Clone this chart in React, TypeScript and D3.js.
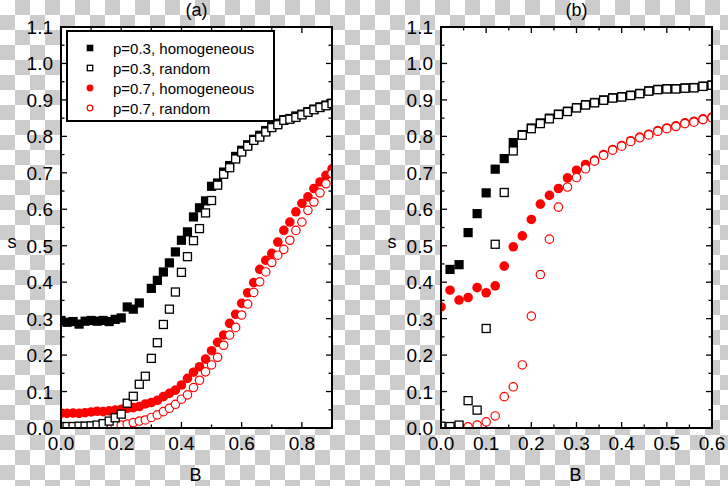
import React from "react";
import * as d3 from "d3";

// ---------- data ----------
// panel (a)
const aHomP3: [number, number][] = [
  [0.0, 0.295], [0.02, 0.29], [0.04, 0.292], [0.06, 0.285], [0.08, 0.293], [0.1, 0.295],
  [0.12, 0.293], [0.14, 0.295], [0.16, 0.292], [0.18, 0.298], [0.2, 0.302], [0.22, 0.332],
  [0.24, 0.326], [0.26, 0.343], [0.3, 0.383], [0.32, 0.405], [0.34, 0.428], [0.36, 0.453],
  [0.38, 0.483], [0.4, 0.515], [0.42, 0.538], [0.44, 0.579], [0.46, 0.604], [0.48, 0.623],
  [0.5, 0.663], [0.52, 0.672], [0.54, 0.702], [0.56, 0.72], [0.58, 0.745], [0.6, 0.762],
  [0.62, 0.777], [0.64, 0.792], [0.66, 0.803], [0.68, 0.816], [0.7, 0.828], [0.72, 0.836],
  [0.74, 0.846], [0.76, 0.849], [0.78, 0.856], [0.8, 0.861], [0.82, 0.868], [0.84, 0.875],
  [0.86, 0.881], [0.88, 0.886], [0.9, 0.891],
];
const aRandP3: [number, number][] = [
  [0.0, 0.004], [0.02, 0.004], [0.04, 0.004], [0.06, 0.005], [0.08, 0.005], [0.1, 0.006],
  [0.12, 0.008], [0.14, 0.012], [0.16, 0.019], [0.18, 0.028], [0.2, 0.038], [0.22, 0.068],
  [0.24, 0.087], [0.26, 0.12], [0.28, 0.142], [0.3, 0.191], [0.32, 0.234], [0.34, 0.284],
  [0.36, 0.326], [0.38, 0.373], [0.4, 0.427], [0.42, 0.47], [0.44, 0.514], [0.46, 0.547],
  [0.48, 0.59], [0.5, 0.624], [0.52, 0.666], [0.54, 0.696], [0.56, 0.714], [0.58, 0.738],
  [0.6, 0.757], [0.62, 0.773], [0.64, 0.789], [0.66, 0.798], [0.68, 0.812], [0.7, 0.824],
  [0.72, 0.832], [0.74, 0.844], [0.76, 0.847], [0.78, 0.852], [0.8, 0.859], [0.82, 0.866],
  [0.84, 0.873], [0.86, 0.879], [0.88, 0.884], [0.9, 0.89],
];
const aHomP7: [number, number][] = [
  [0.0, 0.04], [0.02, 0.04], [0.04, 0.041], [0.06, 0.04], [0.08, 0.042], [0.1, 0.044],
  [0.12, 0.046], [0.14, 0.045], [0.16, 0.047], [0.18, 0.049], [0.2, 0.051], [0.22, 0.054],
  [0.24, 0.056], [0.26, 0.059], [0.28, 0.066], [0.3, 0.07], [0.32, 0.076], [0.34, 0.086],
  [0.36, 0.095], [0.38, 0.104], [0.4, 0.118], [0.42, 0.136], [0.44, 0.153], [0.46, 0.168],
  [0.48, 0.189], [0.5, 0.212], [0.52, 0.235], [0.54, 0.255], [0.56, 0.287], [0.58, 0.312],
  [0.6, 0.342], [0.62, 0.371], [0.64, 0.399], [0.66, 0.435], [0.68, 0.46], [0.7, 0.479],
  [0.72, 0.51], [0.74, 0.542], [0.76, 0.565], [0.78, 0.593], [0.8, 0.616], [0.82, 0.634],
  [0.84, 0.657], [0.86, 0.675], [0.88, 0.693], [0.9, 0.711],
];
const aRandP7: [number, number][] = [
  [0.0, 0.003], [0.02, 0.003], [0.04, 0.003], [0.06, 0.003], [0.08, 0.004], [0.1, 0.004],
  [0.12, 0.005], [0.14, 0.005], [0.16, 0.006], [0.18, 0.007], [0.2, 0.008], [0.22, 0.011],
  [0.24, 0.015], [0.26, 0.019], [0.28, 0.022], [0.3, 0.029], [0.32, 0.036], [0.34, 0.045],
  [0.36, 0.054], [0.38, 0.065], [0.4, 0.079], [0.42, 0.091], [0.44, 0.111], [0.46, 0.131],
  [0.48, 0.154], [0.5, 0.173], [0.52, 0.194], [0.54, 0.227], [0.56, 0.255], [0.58, 0.276],
  [0.6, 0.31], [0.62, 0.34], [0.64, 0.372], [0.66, 0.401], [0.68, 0.428], [0.7, 0.454],
  [0.72, 0.474], [0.74, 0.49], [0.76, 0.515], [0.78, 0.542], [0.8, 0.565], [0.82, 0.597],
  [0.84, 0.62], [0.86, 0.645], [0.88, 0.67], [0.9, 0.698],
];

// panel (b)
const bHomP3: [number, number][] = [
  [0.02, 0.435], [0.04, 0.448], [0.06, 0.536], [0.08, 0.588], [0.1, 0.645], [0.12, 0.71],
  [0.14, 0.739], [0.16, 0.783], [0.18, 0.805], [0.2, 0.823], [0.22, 0.837], [0.24, 0.85],
  [0.26, 0.861], [0.28, 0.869], [0.3, 0.879], [0.32, 0.887], [0.34, 0.893], [0.36, 0.9],
  [0.38, 0.906], [0.4, 0.909], [0.42, 0.913], [0.44, 0.918], [0.46, 0.925], [0.48, 0.929],
  [0.5, 0.931], [0.52, 0.931], [0.54, 0.933], [0.56, 0.934], [0.58, 0.938], [0.6, 0.941],
];
const bRandP3: [number, number][] = [
  [0.0, 0.005], [0.02, 0.004], [0.04, 0.008], [0.06, 0.075], [0.08, 0.049], [0.1, 0.273],
  [0.12, 0.504], [0.14, 0.646], [0.16, 0.76], [0.18, 0.803], [0.2, 0.821], [0.22, 0.835],
  [0.24, 0.848], [0.26, 0.86], [0.28, 0.868], [0.3, 0.878], [0.32, 0.886], [0.34, 0.892],
  [0.36, 0.899], [0.38, 0.905], [0.4, 0.908], [0.42, 0.912], [0.44, 0.917], [0.46, 0.924],
  [0.48, 0.928], [0.5, 0.93], [0.52, 0.93], [0.54, 0.932], [0.56, 0.933], [0.58, 0.937],
  [0.6, 0.94],
];
const bHomP7: [number, number][] = [
  [0.0, 0.332], [0.02, 0.378], [0.04, 0.351], [0.06, 0.358], [0.08, 0.385], [0.1, 0.371],
  [0.12, 0.39], [0.14, 0.444], [0.16, 0.497], [0.18, 0.527], [0.2, 0.572], [0.22, 0.614],
  [0.24, 0.638], [0.26, 0.657], [0.28, 0.686], [0.3, 0.707], [0.32, 0.723], [0.34, 0.735],
  [0.36, 0.75], [0.38, 0.764], [0.4, 0.775], [0.42, 0.788], [0.44, 0.798], [0.46, 0.806],
  [0.48, 0.816], [0.5, 0.823], [0.52, 0.829], [0.54, 0.837], [0.56, 0.841], [0.58, 0.848],
  [0.6, 0.853],
];
const bRandP7: [number, number][] = [
  [0.0, 0.005], [0.02, 0.003], [0.04, 0.003], [0.06, 0.003], [0.08, 0.008], [0.1, 0.017],
  [0.12, 0.033], [0.14, 0.086], [0.16, 0.113], [0.18, 0.173], [0.2, 0.307], [0.22, 0.421],
  [0.24, 0.518], [0.26, 0.606], [0.28, 0.661], [0.3, 0.687], [0.32, 0.711], [0.34, 0.732],
  [0.36, 0.748], [0.38, 0.762], [0.4, 0.773], [0.42, 0.786], [0.44, 0.796], [0.46, 0.804],
  [0.48, 0.814], [0.5, 0.821], [0.52, 0.827], [0.54, 0.835], [0.56, 0.839], [0.58, 0.846],
  [0.6, 0.851],
];

const legendLabels = [
  "p=0.3, homogeneous",
  "p=0.3, random",
  "p=0.7, homogeneous",
  "p=0.7, random",
];
const yTickValues = [0, 0.1, 0.2, 0.3, 0.4, 0.5, 0.6, 0.7, 0.8, 0.9, 1.0, 1.1];
const aXTickValues = [0, 0.2, 0.4, 0.6, 0.8];
const bXTickValues = [0, 0.1, 0.2, 0.3, 0.4, 0.5, 0.6];

// ---------- styling ----------
const W = 728;
const H = 486;
const FONT = "'Liberation Sans', Arial, Helvetica, sans-serif";
const RED = "#ff0000";

type Series = { data: [number, number][]; kind: "sqFill" | "sqOpen" | "cFill" | "cOpen" };

type PanelCfg = {
  id: string;
  title: string;
  left: number;
  right: number;
  xMax: number;
  xMajor: number[];
  xMinorStep: number;
  series: Series[];
  legend: boolean;
};

const TOP = 27;
const BOTTOM = 428;

function Marker({ kind, x, y, s = 1 }: { kind: Series["kind"]; x: number; y: number; s?: number }) {
  const half = 4.6 * s;
  const r = 4.8 * s;
  if (kind === "sqFill")
    return <rect x={x - half} y={y - half} width={half * 2} height={half * 2} fill="#000" />;
  if (kind === "sqOpen")
    return (
      <rect x={x - half + 0.6} y={y - half + 0.6} width={half * 2 - 1.2} height={half * 2 - 1.2}
        fill="#fff" stroke="#000" strokeWidth={1.3} />
    );
  if (kind === "cFill") return <circle cx={x} cy={y} r={r} fill={RED} />;
  return <circle cx={x} cy={y} r={r - 0.6} fill="#fff" stroke={RED} strokeWidth={1.2} />;
}

function Panel({ cfg }: { cfg: PanelCfg }) {
  const x = d3.scaleLinear().domain([0, cfg.xMax]).range([cfg.left, cfg.right]);
  const y = d3.scaleLinear().domain([0, 1.1]).range([BOTTOM, TOP]);
  const fmt = d3.format(".1f");
  const xMinor = d3.range(0, cfg.xMax + 1e-9, cfg.xMinorStep);
  const yMinor = d3.range(0, 1.1 + 1e-9, 0.05);
  const majLen = 6;
  const minLen = 3.5;
  const clipId = `clip-${cfg.id}`;
  const midX = (cfg.left + cfg.right) / 2;

  const isMajorX = (v: number) => cfg.xMajor.some((m) => Math.abs(m - v) < 1e-6);
  const isMajorY = (v: number) => yTickValues.some((m) => Math.abs(m - v) < 1e-6);

  return (
    <g>
      <defs>
        <clipPath id={clipId}>
          <rect x={cfg.left} y={TOP} width={cfg.right - cfg.left} height={BOTTOM - TOP} />
        </clipPath>
      </defs>
      <rect x={cfg.left} y={TOP} width={cfg.right - cfg.left} height={BOTTOM - TOP} fill="#fff" />

      {/* ticks */}
      <g stroke="#000" strokeWidth={1.3}>
        {xMinor.map((v, i) => {
          const len = isMajorX(v) ? majLen : minLen;
          const px = x(v);
          return (
            <g key={`xt${i}`}>
              <line x1={px} x2={px} y1={BOTTOM} y2={BOTTOM - len} />
              <line x1={px} x2={px} y1={TOP} y2={TOP + len} />
            </g>
          );
        })}
        {yMinor.map((v, i) => {
          const len = isMajorY(v) ? majLen : minLen;
          const py = y(v);
          return (
            <g key={`yt${i}`}>
              <line x1={cfg.left} x2={cfg.left + len} y1={py} y2={py} />
              <line x1={cfg.right} x2={cfg.right - len} y1={py} y2={py} />
            </g>
          );
        })}
      </g>

      {/* data */}
      <g clipPath={`url(#${clipId})`}>
        {cfg.series.map((s, si) => (
          <g key={`s${si}`}>
            {s.data.map((d, i) => (
              <Marker key={i} kind={s.kind} x={x(d[0])} y={y(d[1])} />
            ))}
          </g>
        ))}
      </g>

      {/* frame */}
      <rect x={cfg.left} y={TOP} width={cfg.right - cfg.left} height={BOTTOM - TOP}
        fill="none" stroke="#000" strokeWidth={2} />

      {/* legend */}
      {cfg.legend && (
        <g>
          <rect x={67} y={31} width={207} height={90} fill="#fff" stroke="#000" strokeWidth={2} />
          {legendLabels.map((lab, i) => {
            const ly = 48 + i * 20;
            const kinds: Series["kind"][] = ["sqFill", "sqOpen", "cFill", "cOpen"];
            return (
              <g key={`lg${i}`}>
                <Marker kind={kinds[i]} x={90} y={ly} s={0.72} />
                <text x={113} y={ly + 5.5} fontSize={15} fontFamily={FONT} fill="#000">
                  {lab}
                </text>
              </g>
            );
          })}
        </g>
      )}

      {/* tick labels */}
      <g fontFamily={FONT} fontSize={19} fill="#000">
        {cfg.xMajor.map((v, i) => (
          <text key={`xl${i}`} x={x(v)} y={450} textAnchor="middle">
            {fmt(v)}
          </text>
        ))}
        {yTickValues.map((v, i) => (
          <text key={`yl${i}`} x={cfg.left - 8} y={y(v) + 7} textAnchor="end">
            {fmt(v)}
          </text>
        ))}
      </g>

      {/* axis titles */}
      <text x={midX} y={16} textAnchor="middle" fontFamily={FONT} fontSize={18}>
        {cfg.title}
      </text>
      <text x={midX - 1} y={481} textAnchor="middle" fontFamily={FONT} fontSize={18}>
        B
      </text>
      <text x={cfg.left - 49} y={248} textAnchor="middle" fontFamily={FONT} fontSize={18}>
        s
      </text>
    </g>
  );
}

function Checker() {
  const size = 15;
  const cols = d3.range(Math.ceil(W / size));
  const rows = d3.range(Math.ceil(H / size));
  return (
    <g>
      <rect x={0} y={0} width={W} height={H} fill="#ffffff" />
      {rows.map((r) =>
        cols
          .filter((c) => (r + c) % 2 === 1)
          .map((c) => (
            <rect key={`${r}-${c}`} x={c * size} y={r * size} width={size} height={size} fill="#cccccc" />
          ))
      )}
    </g>
  );
}

const panels: PanelCfg[] = [
  {
    id: "a",
    title: "(a)",
    left: 61,
    right: 332,
    xMax: 0.9,
    xMajor: aXTickValues,
    xMinorStep: 0.1,
    legend: true,
    series: [
      { data: aHomP7, kind: "cFill" },
      { data: aRandP7, kind: "cOpen" },
      { data: aHomP3, kind: "sqFill" },
      { data: aRandP3, kind: "sqOpen" },
    ],
  },
  {
    id: "b",
    title: "(b)",
    left: 441,
    right: 712,
    xMax: 0.6,
    xMajor: bXTickValues,
    xMinorStep: 0.05,
    legend: false,
    series: [
      { data: bHomP7, kind: "cFill" },
      { data: bRandP7, kind: "cOpen" },
      { data: bHomP3, kind: "sqFill" },
      { data: bRandP3, kind: "sqOpen" },
    ],
  },
];

export default function App() {
  return (
    <svg
      width={W}
      height={H}
      viewBox={`0 0 ${W} ${H}`}
      style={{ position: "absolute", left: 0, top: 0, display: "block" }}
    >
      <Checker />
      {panels.map((p) => (
        <Panel key={p.id} cfg={p} />
      ))}
    </svg>
  );
}
